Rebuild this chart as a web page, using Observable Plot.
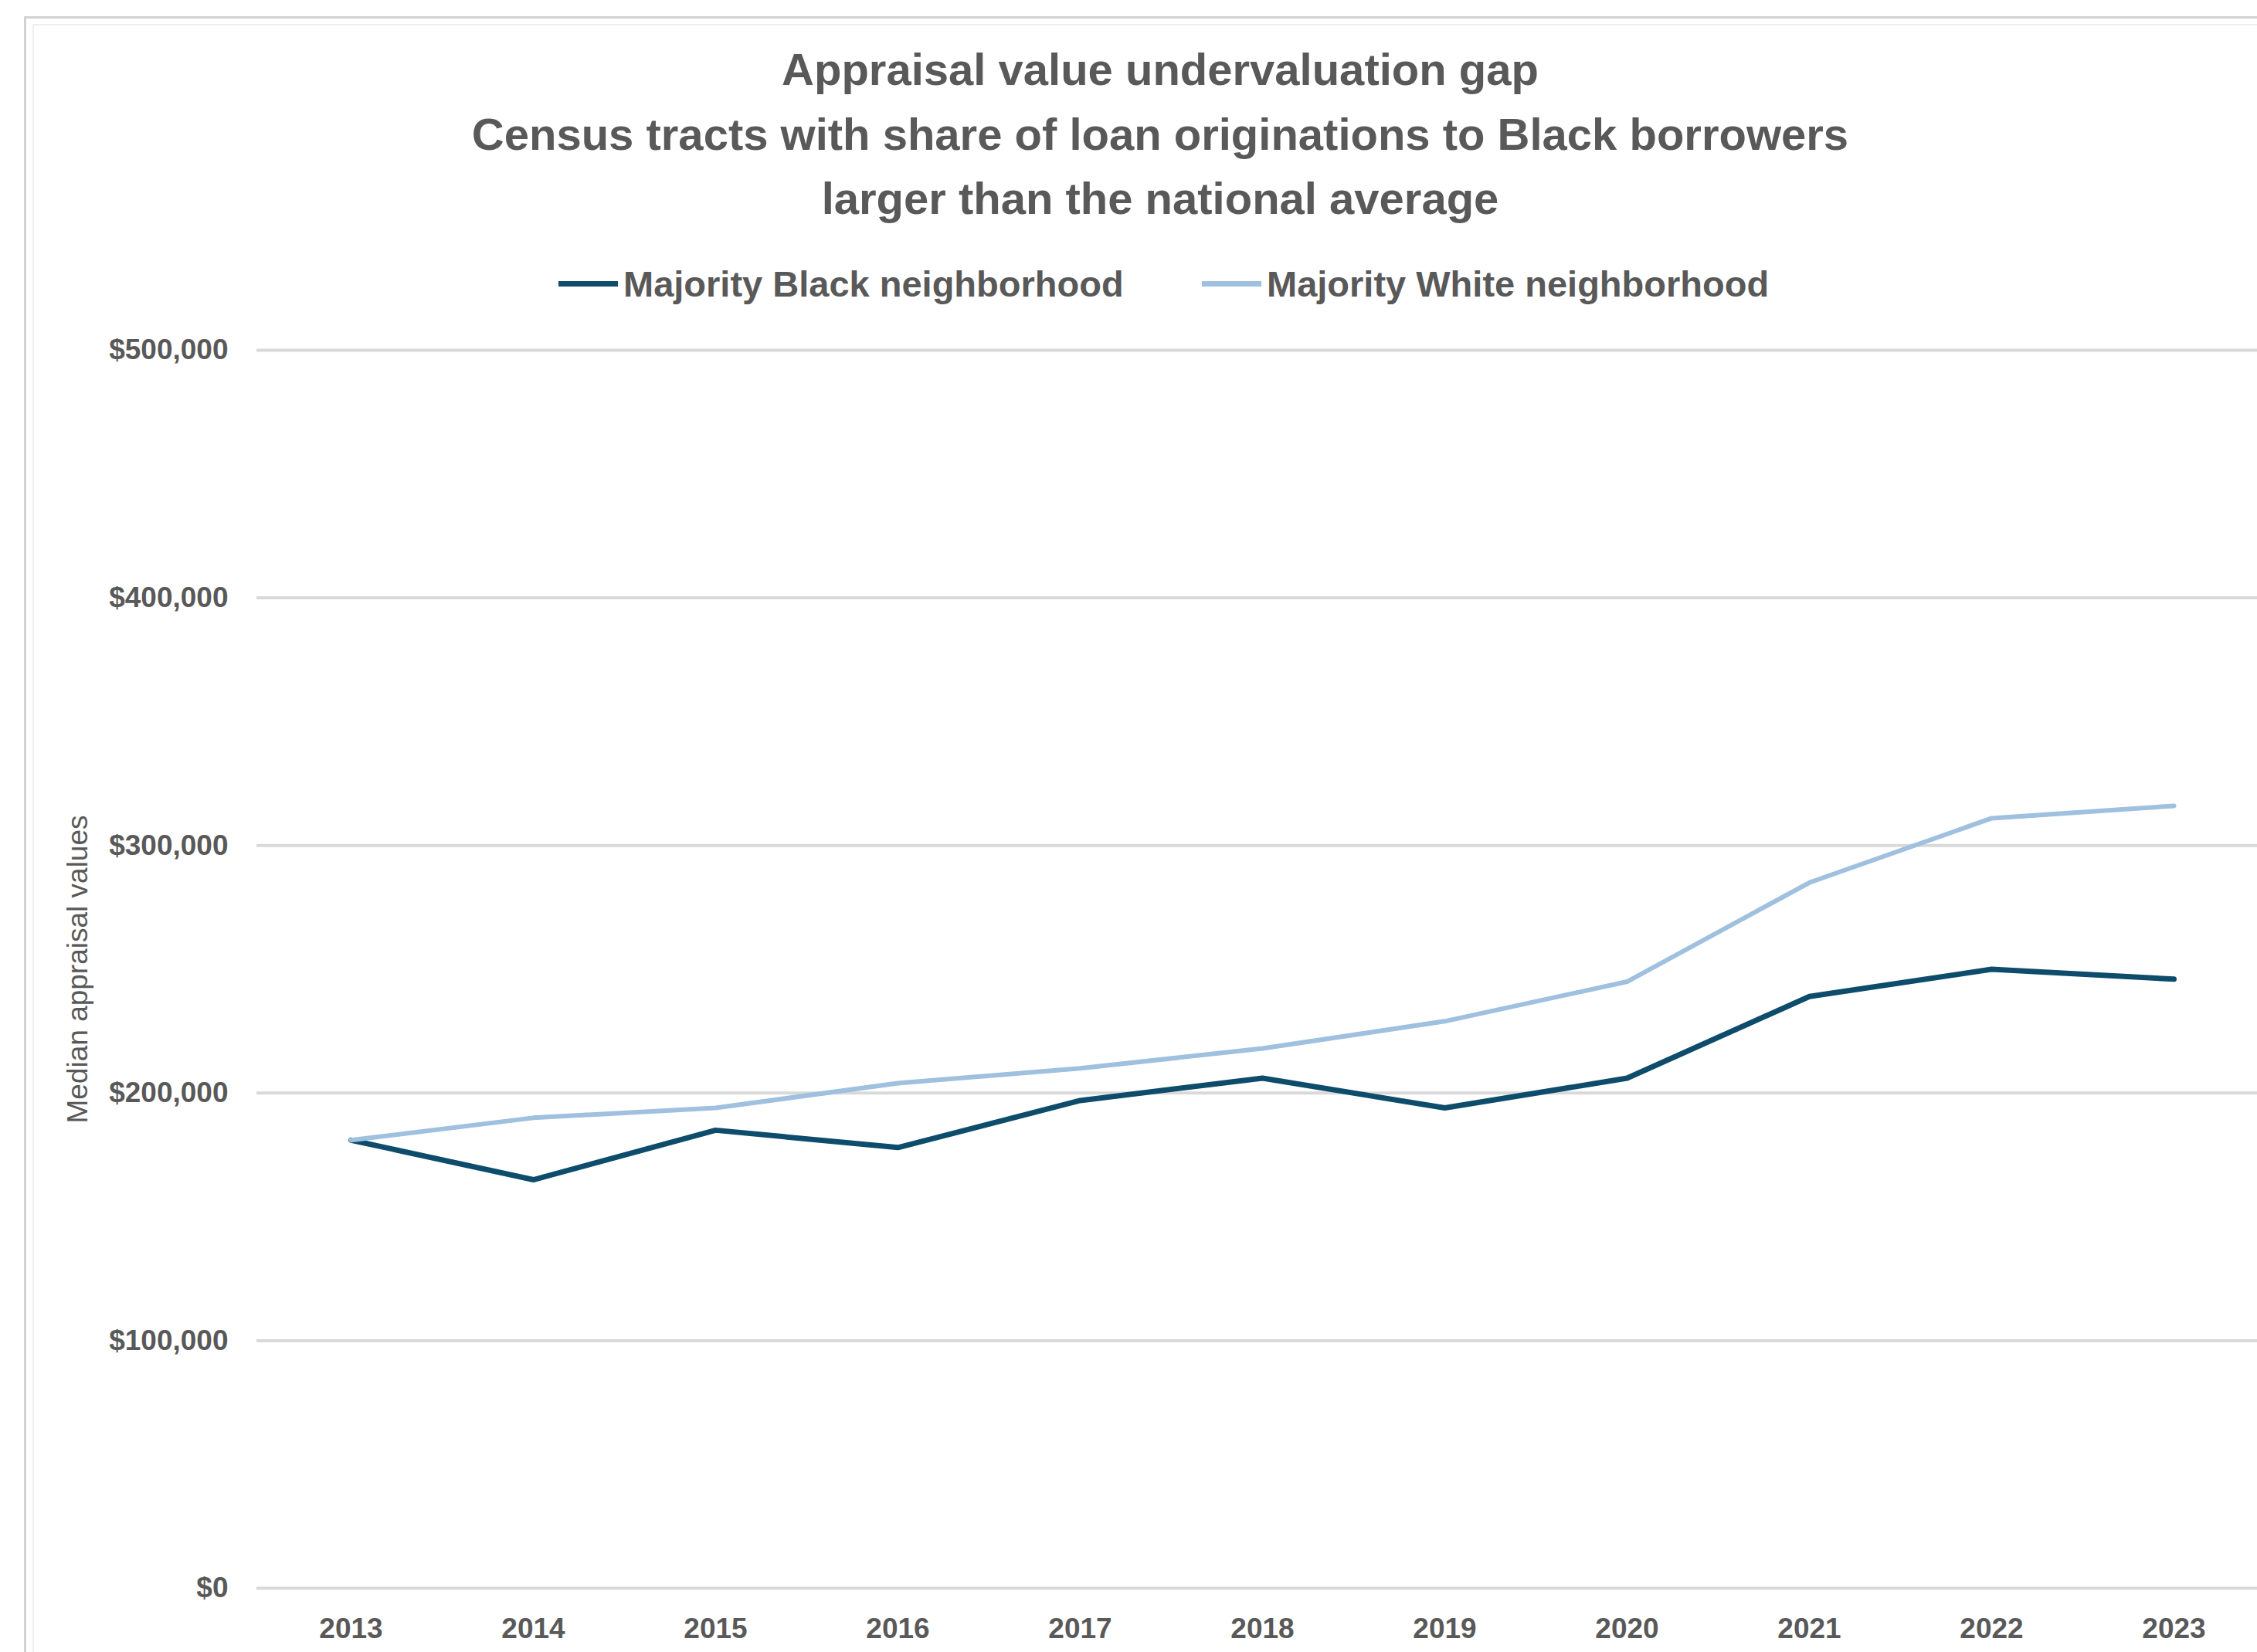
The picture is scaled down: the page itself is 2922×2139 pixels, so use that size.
<!DOCTYPE html>
<html>
<head>
<meta charset="utf-8">
<script src="https://cdn.jsdelivr.net/npm/d3@7"></script>
<script src="https://cdn.jsdelivr.net/npm/@observablehq/plot@0.6"></script>
<style>
  html, body { margin: 0; padding: 0; background: #fff; width: 2922px; height: 2139px; overflow: hidden;
    font-family: "Liberation Sans", Arial, sans-serif; }
  #outer { position: absolute; left: 31px; top: 21px; width: 3000px; height: 2300px;
    border-left: 3px solid #d2d2d2; border-top: 3px solid #d2d2d2; }
  #inner { position: absolute; left: 42px; top: 31px; width: 3000px; height: 2300px;
    border-left: 2px solid #eeeeee; border-top: 2px solid #eeeeee; }
  #title { position: absolute; left: 0; top: 48px; width: 3004px; text-align: center;
    font-size: 58px; font-weight: bold; line-height: 83.5px; color: #595959; }
  .leg { position: absolute; top: 337px; height: 60px; display: flex; align-items: center;
    font-size: 47px; font-weight: bold; color: #595959; white-space: nowrap; }
  .sw { width: 77px; height: 7px; margin-right: 7px; }
  #chart { position: absolute; left: 0; top: 400px; }
</style>
</head>
<body>
<div id="outer"></div>
<div id="inner"></div>
<div id="title"></div>
<div id="legend"></div>
<div id="chart"></div>
<script>
const titleLines = [
  "Appraisal value undervaluation gap",
  "Census tracts with share of loan originations to Black borrowers",
  "larger than the national average"
];
const seriesNames = ["Majority Black neighborhood", "Majority White neighborhood"];
const seriesColors = ["#0e4c6b", "#9fc0de"];
const years = [2013, 2014, 2015, 2016, 2017, 2018, 2019, 2020, 2021, 2022, 2023];
const blackValues = [181000, 165000, 185000, 178000, 197000, 206000, 194000, 206000, 239000, 250000, 246000];
const whiteValues = [181000, 190000, 194000, 204000, 210000, 218000, 229000, 245000, 285000, 311000, 316000];
const yTicks = [0, 100000, 200000, 300000, 400000, 500000];
const yLabel = "Median appraisal values";

// Title
document.getElementById("title").innerHTML = titleLines.map(t => `<div>${t}</div>`).join("");

// Legend
const legendLefts = [723, 1556];
const legend = document.getElementById("legend");
seriesNames.forEach((name, i) => {
  const item = document.createElement("div");
  item.className = "leg";
  item.style.left = legendLefts[i] + "px";
  item.innerHTML = `<div class="sw" style="background:${seriesColors[i]}"></div><span>${name}</span>`;
  legend.appendChild(item);
});

const blackData = years.map((year, i) => ({year, value: blackValues[i]}));
const whiteData = years.map((year, i) => ({year, value: whiteValues[i]}));

const fmt = d3.format(",");
const chart = Plot.plot({
  width: 2922,
  height: 1739,
  marginLeft: 332,
  marginRight: 0,
  marginTop: 53,
  marginBottom: 83,
  style: {fontFamily: '"Liberation Sans", Arial, sans-serif', background: "transparent", maxWidth: "none"},
  x: {type: "point", domain: years, range: [332.6, 2936]},
  y: {domain: [0, 500000]},
  marks: [
    Plot.gridY(yTicks, {stroke: "#d9d9d9", strokeOpacity: 1, strokeWidth: 4}),
    Plot.axisY(yTicks, {tickSize: 0, tickPadding: 37, tickFormat: d => "$" + fmt(d),
      fontSize: 37, fontWeight: "bold", fill: "#595959", label: null}),
    Plot.axisX(years, {tickSize: 0, tickPadding: 38, tickFormat: d => String(d),
      fontSize: 37, fontWeight: "bold", fill: "#595959", label: null}),
    Plot.text([yLabel], {text: d => d, frameAnchor: "left", dx: -231, rotate: -90,
      textAnchor: "middle", lineAnchor: "middle", fontSize: 37, fill: "#595959"}),
    Plot.line(blackData, {x: "year", y: "value", stroke: seriesColors[0], strokeWidth: 7,
      strokeLinejoin: "round", strokeLinecap: "round"}),
    Plot.line(whiteData, {x: "year", y: "value", stroke: seriesColors[1], strokeWidth: 6,
      strokeLinejoin: "round", strokeLinecap: "round"})
  ]
});
document.getElementById("chart").appendChild(chart);
</script>
</body>
</html>
